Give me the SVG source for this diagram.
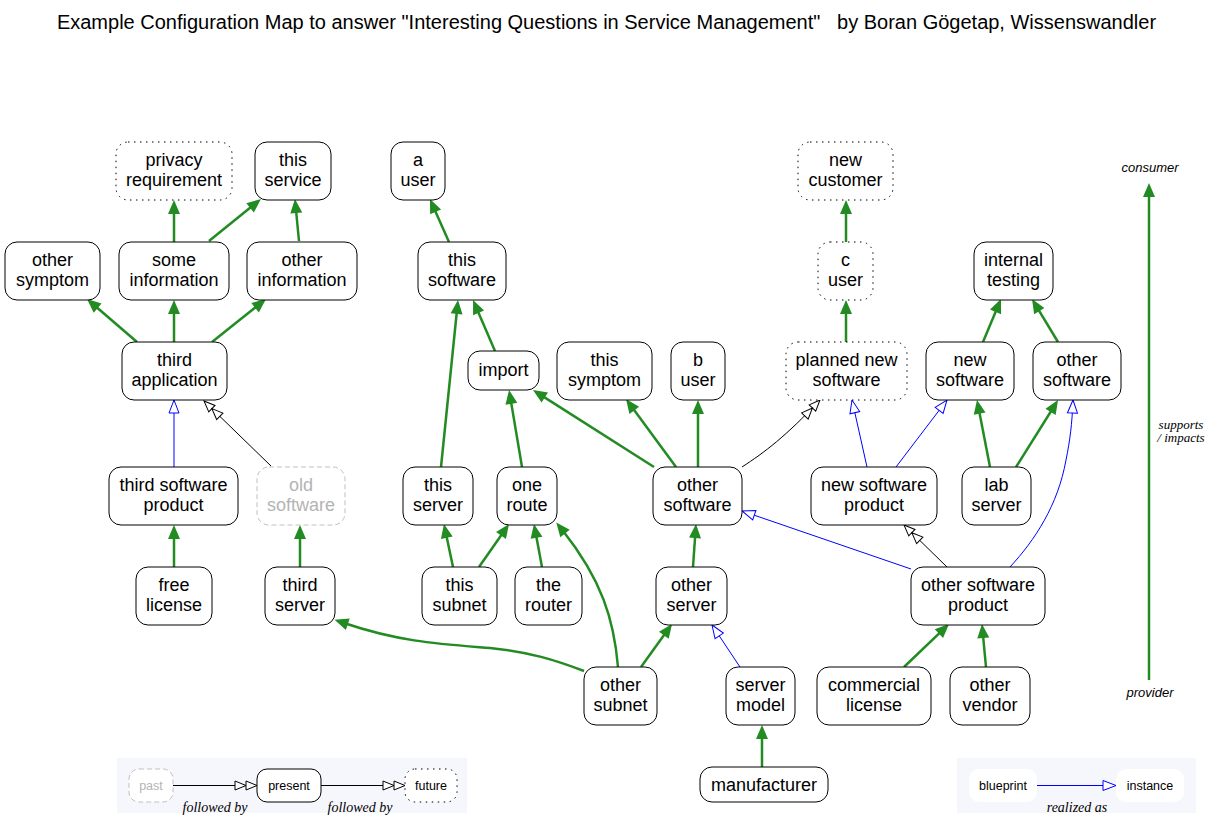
<svg xmlns="http://www.w3.org/2000/svg" width="1213" height="829" viewBox="0 0 1213 829">
<style>
.n rect{fill:#fff;stroke:#000;stroke-width:1}
.n text{font-family:"Liberation Sans",Arial,sans-serif;font-size:18px;text-anchor:middle;fill:#000}
.dot rect{stroke-dasharray:1.5,4.5}
.old rect{stroke:#c0c0c0;stroke-dasharray:5,3}
.old text{fill:#b4b4b4}
.lg rect{fill:#fff;stroke:#000;stroke-width:1}
.lg text{font-family:"Liberation Sans",Arial,sans-serif;font-size:12.5px;text-anchor:middle;fill:#000}
.g{stroke:#228b22;stroke-width:2.5;fill:none;marker-end:url(#ag)}
.b{stroke:#0000ff;stroke-width:1;fill:none;marker-end:url(#ab)}
.k{stroke:#000;stroke-width:1;fill:none;marker-end:url(#ak)}
.it{font-family:"Liberation Serif","Times New Roman",serif;font-style:italic;font-size:14px;text-anchor:middle;fill:#000}
.is{font-family:"Liberation Sans",Arial,sans-serif;font-style:italic;font-size:13px;text-anchor:middle;fill:#000}
.title{font-family:"Liberation Sans",Arial,sans-serif;font-size:20px;text-anchor:middle;fill:#000;white-space:pre}
</style>
<defs>
<marker id="ag" markerUnits="userSpaceOnUse" markerWidth="16" markerHeight="14" refX="4" refY="6" orient="auto" overflow="visible"><path d="M0,0 L14,6 L0,12 Z" fill="#228b22"/></marker>
<marker id="ab" markerUnits="userSpaceOnUse" markerWidth="15" markerHeight="12" refX="13" refY="5" orient="auto" overflow="visible"><path d="M0,0 L13,5 L0,10 Z" fill="#fff" stroke="#0000ff" stroke-width="1"/></marker>
<marker id="ak" markerUnits="userSpaceOnUse" markerWidth="24" markerHeight="12" refX="22" refY="4.5" orient="auto" overflow="visible"><path d="M0,0 L11,4.5 L0,9 Z M11,0 L22,4.5 L11,9 Z" fill="#fff" stroke="#000" stroke-width="1"/></marker>
</defs>
<rect width="1213" height="829" fill="#fff"/>
<text class="title" x="606.5" y="29">Example Configuration Map to answer "Interesting Questions in Service Management"   by Boran Gögetap, Wissenswandler</text>

<g id="connectors">
<path class="g" d="M174,242 L174,210"/>
<path class="g" d="M209,241 L253.2,205.3"/>
<path class="g" d="M299,241 L295.9,209"/>
<path class="g" d="M137,342 L94.6,305.5"/>
<path class="g" d="M174,342 L174,310"/>
<path class="g" d="M212,342 L258.2,305.2"/>
<path class="b" d="M174,467 L174,400"/>
<path class="k" d="M271,466 L204,401"/>
<path class="g" d="M174,567 L174,535"/>
<path class="g" d="M300,567 L300,535"/>
<path class="g" d="M584,671 C555,660 530,652 490,648 C440,644 400,642 344,623"/>
<path class="g" d="M449,242 L434,208.2"/>
<path class="g" d="M495,351 L477,309.2"/>
<path class="g" d="M441,467 L457,310"/>
<path class="g" d="M522,467 L510.7,399.9"/>
<path class="g" d="M654,467 L541.4,395.4"/>
<path class="g" d="M676,467 L631.9,407.1"/>
<path class="g" d="M698,467 L698,410"/>
<path class="k" d="M742,467 C765,452 785,437 820,400"/>
<path class="b" d="M867,467 L852,400"/>
<path class="b" d="M896,467 L947,400"/>
<path class="g" d="M990,467 L978.9,409.8"/>
<path class="g" d="M1016,467 L1052.7,408.5"/>
<path class="b" d="M1010,567 C1035,540 1058,505 1066,460 C1070,440 1072,425 1073,400"/>
<path class="g" d="M983,342 L997.1,308.2"/>
<path class="g" d="M1058,342 L1037.2,307.6"/>
<path class="g" d="M846,242 L846,210"/>
<path class="g" d="M846,342 L846,310"/>
<path class="g" d="M453,567 L446,533.8"/>
<path class="g" d="M479,567 L503.3,532.2"/>
<path class="g" d="M542,567 L535.8,533.8"/>
<path class="g" d="M618,667 C614,620 602,580 562.5,530.3"/>
<path class="g" d="M641,667 L666.2,632.1"/>
<path class="g" d="M693,567 L695.3,534"/>
<path class="b" d="M740,667 L712,625"/>
<path class="b" d="M911,569 L742,511"/>
<path class="k" d="M947,567 L904,525"/>
<path class="g" d="M904,667 L941.8,630.9"/>
<path class="g" d="M986,667 L982.9,634"/>
<path class="g" d="M762,767 L762,735"/>
<path class="g" d="M1149,680 L1149,193"/>
</g>

<g id="n-privacy" class="n dot"><rect x="116" y="142" width="116" height="58" rx="12"/><text x="174" y="166">privacy</text><text x="174" y="186">requirement</text></g>
<g id="n-thisservice" class="n"><rect x="255" y="142" width="76" height="58" rx="12"/><text x="293" y="166">this</text><text x="293" y="186">service</text></g>
<g id="n-auser" class="n"><rect x="391" y="142" width="54" height="58" rx="12"/><text x="418" y="166">a</text><text x="418" y="186">user</text></g>
<g id="n-newcustomer" class="n dot"><rect x="798" y="142" width="95" height="58" rx="12"/><text x="845.5" y="166">new</text><text x="845.5" y="186">customer</text></g>

<g id="n-othersymptom" class="n"><rect x="5" y="242" width="95" height="58" rx="12"/><text x="52.5" y="266">other</text><text x="52.5" y="286">symptom</text></g>
<g id="n-someinfo" class="n"><rect x="119" y="242" width="110" height="58" rx="12"/><text x="174" y="266">some</text><text x="174" y="286">information</text></g>
<g id="n-otherinfo" class="n"><rect x="247" y="242" width="110" height="58" rx="12"/><text x="302" y="266">other</text><text x="302" y="286">information</text></g>
<g id="n-thissoftware" class="n"><rect x="418" y="242" width="88" height="58" rx="12"/><text x="462" y="266">this</text><text x="462" y="286">software</text></g>
<g id="n-cuser" class="n dot"><rect x="818" y="242" width="55" height="58" rx="12"/><text x="845.5" y="266">c</text><text x="845.5" y="286">user</text></g>
<g id="n-internaltesting" class="n"><rect x="974" y="242" width="79" height="58" rx="12"/><text x="1013.5" y="266">internal</text><text x="1013.5" y="286">testing</text></g>

<g id="n-thirdapp" class="n"><rect x="122" y="342" width="105" height="58" rx="12"/><text x="174.5" y="366">third</text><text x="174.5" y="386">application</text></g>
<g id="n-import" class="n"><rect x="468" y="351" width="71" height="39" rx="12"/><text x="503.5" y="376">import</text></g>
<g id="n-thissymptom" class="n"><rect x="557" y="342" width="95" height="58" rx="12"/><text x="604.5" y="366">this</text><text x="604.5" y="386">symptom</text></g>
<g id="n-buser" class="n"><rect x="671" y="342" width="54" height="58" rx="12"/><text x="698" y="366">b</text><text x="698" y="386">user</text></g>
<g id="n-plannednew" class="n dot"><rect x="786" y="342" width="121" height="58" rx="12"/><text x="846.5" y="366">planned new</text><text x="846.5" y="386">software</text></g>
<g id="n-newsoftware" class="n"><rect x="926" y="342" width="88" height="58" rx="12"/><text x="970" y="366">new</text><text x="970" y="386">software</text></g>
<g id="n-othersoftwareR" class="n"><rect x="1033" y="342" width="88" height="58" rx="12"/><text x="1077" y="366">other</text><text x="1077" y="386">software</text></g>

<g id="n-thirdswproduct" class="n"><rect x="109" y="467" width="129" height="58" rx="12"/><text x="173.5" y="491">third software</text><text x="173.5" y="511">product</text></g>
<g id="n-oldsoftware" class="n old"><rect x="257" y="467" width="88" height="58" rx="12"/><text x="301" y="491">old</text><text x="301" y="511">software</text></g>
<g id="n-thisserver" class="n"><rect x="403" y="467" width="70" height="58" rx="12"/><text x="438" y="491">this</text><text x="438" y="511">server</text></g>
<g id="n-oneroute" class="n"><rect x="497" y="467" width="60" height="58" rx="12"/><text x="527" y="491">one</text><text x="527" y="511">route</text></g>
<g id="n-othersoftwareM" class="n"><rect x="653" y="467" width="89" height="58" rx="12"/><text x="697.5" y="491">other</text><text x="697.5" y="511">software</text></g>
<g id="n-newswproduct" class="n"><rect x="811" y="467" width="126" height="58" rx="12"/><text x="874" y="491">new software</text><text x="874" y="511">product</text></g>
<g id="n-labserver" class="n"><rect x="962" y="467" width="69" height="58" rx="12"/><text x="996.5" y="491">lab</text><text x="996.5" y="511">server</text></g>

<g id="n-freelicense" class="n"><rect x="136" y="567" width="76" height="58" rx="12"/><text x="174" y="591">free</text><text x="174" y="611">license</text></g>
<g id="n-thirdserver" class="n"><rect x="265" y="567" width="70" height="58" rx="12"/><text x="300" y="591">third</text><text x="300" y="611">server</text></g>
<g id="n-thissubnet" class="n"><rect x="422" y="567" width="75" height="58" rx="12"/><text x="459.5" y="591">this</text><text x="459.5" y="611">subnet</text></g>
<g id="n-therouter" class="n"><rect x="515" y="567" width="67" height="58" rx="12"/><text x="548.5" y="591">the</text><text x="548.5" y="611">router</text></g>
<g id="n-otherserver" class="n"><rect x="656" y="567" width="71" height="58" rx="12"/><text x="691.5" y="591">other</text><text x="691.5" y="611">server</text></g>
<g id="n-otherswproduct" class="n"><rect x="911" y="567" width="134" height="58" rx="12"/><text x="978" y="591">other software</text><text x="978" y="611">product</text></g>

<g id="n-othersubnet" class="n"><rect x="584" y="667" width="73" height="58" rx="12"/><text x="620.5" y="691">other</text><text x="620.5" y="711">subnet</text></g>
<g id="n-servermodel" class="n"><rect x="726" y="667" width="69" height="58" rx="12"/><text x="760.5" y="691">server</text><text x="760.5" y="711">model</text></g>
<g id="n-commerciallicense" class="n"><rect x="817" y="667" width="114" height="58" rx="12"/><text x="874" y="691">commercial</text><text x="874" y="711">license</text></g>
<g id="n-othervendor" class="n"><rect x="950" y="667" width="80" height="58" rx="12"/><text x="990" y="691">other</text><text x="990" y="711">vendor</text></g>
<g id="n-manufacturer" class="n"><rect x="700" y="767" width="128" height="35" rx="12"/><text x="764" y="791">manufacturer</text></g>

<g id="axis">
<text class="is" x="1150" y="172">consumer</text>
<text class="is" x="1150" y="697">provider</text>
<text class="it" x="1181" y="429" style="font-size:13px">supports</text>
<text class="it" x="1181" y="442" style="font-size:13px">/ impacts</text>
</g>

<g id="legend-time">
<rect x="117" y="758" width="350" height="55" fill="#f6f7fc"/>
<g id="lg-past" class="lg"><rect x="129" y="769" width="44" height="33" rx="10" style="stroke:#c0c0c0;stroke-dasharray:5,3"/><text x="151" y="790" style="fill:#b4b4b4">past</text></g>
<g id="lg-present" class="lg"><rect x="257" y="769" width="64" height="33" rx="10"/><text x="289" y="790">present</text></g>
<g id="lg-future" class="lg"><rect x="405" y="769" width="52" height="33" rx="10" style="stroke-dasharray:1.5,4.5"/><text x="431" y="790">future</text></g>
<path class="k" d="M173,785.5 L257,785.5"/>
<path class="k" d="M321,785.5 L405,785.5"/>
<text class="it" x="215" y="812">followed by</text>
<text class="it" x="360" y="812">followed by</text>
</g>

<g id="legend-real">
<rect x="957" y="758" width="239" height="55" fill="#f6f7fc"/>
<g id="lg-blueprint" class="lg"><rect x="969" y="769" width="68" height="33" rx="10" style="stroke:none"/><text x="1003" y="790">blueprint</text></g>
<g id="lg-instance" class="lg"><rect x="1116" y="769" width="68" height="33" rx="10" style="stroke:none"/><text x="1150" y="790">instance</text></g>
<path class="b" d="M1037,785.5 L1116,785.5"/>
<text class="it" x="1077" y="812">realized as</text>
</g>
</svg>
